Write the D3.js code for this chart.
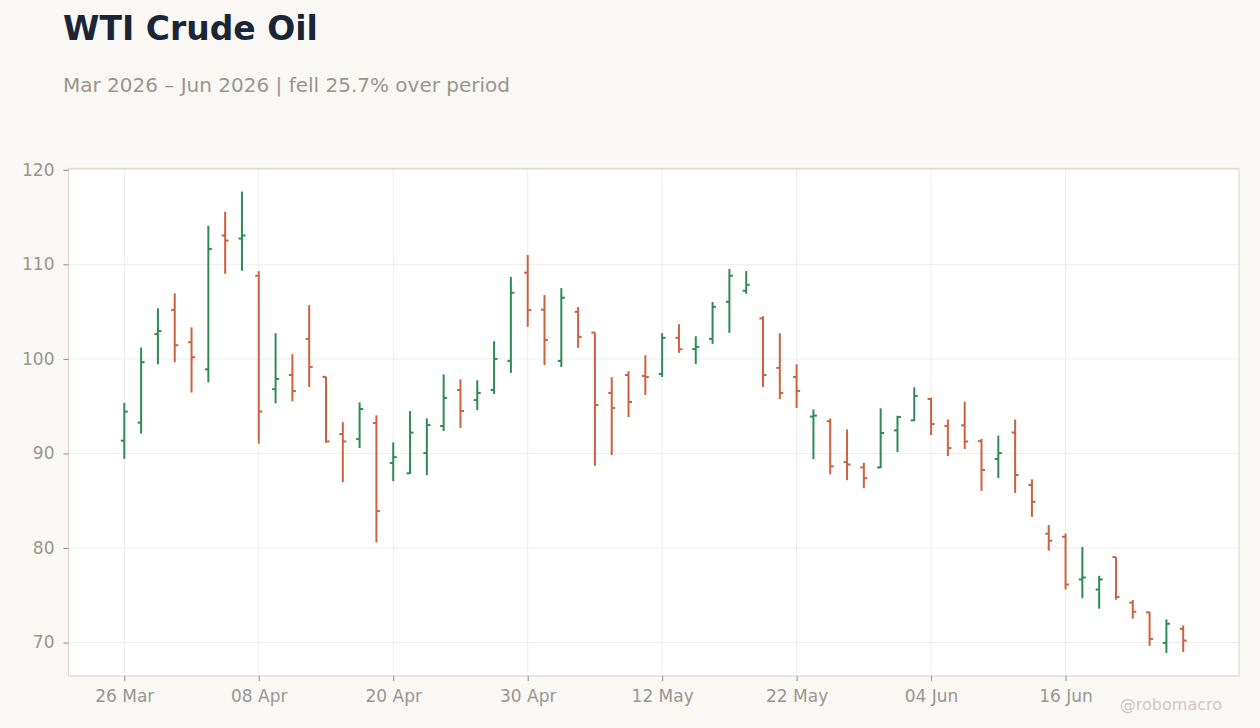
<!DOCTYPE html>
<html>
<head>
<meta charset="utf-8">
<script src="https://cdn.jsdelivr.net/npm/d3@7"></script>
<style>
  html, body { margin: 0; padding: 0; background: #f9f8f5; }
  svg { display: block; font-family: 'DejaVu Sans', sans-serif; }
</style>
</head>
<body>
<svg id="chart" width="1260" height="728"></svg>
<script>
const DATES = [
  '2026-03-26', '2026-03-27', '2026-03-30', '2026-03-31', '2026-04-01', '2026-04-02', '2026-04-06', '2026-04-07',
  '2026-04-08', '2026-04-09', '2026-04-10', '2026-04-13', '2026-04-14', '2026-04-15', '2026-04-16', '2026-04-17',
  '2026-04-20', '2026-04-21', '2026-04-22', '2026-04-23', '2026-04-24', '2026-04-27', '2026-04-28', '2026-04-29',
  '2026-04-30', '2026-05-01', '2026-05-04', '2026-05-05', '2026-05-06', '2026-05-07', '2026-05-08', '2026-05-11',
  '2026-05-12', '2026-05-13', '2026-05-14', '2026-05-15', '2026-05-18', '2026-05-19', '2026-05-20', '2026-05-21',
  '2026-05-22', '2026-05-26', '2026-05-27', '2026-05-28', '2026-05-29', '2026-06-01', '2026-06-02', '2026-06-03',
  '2026-06-04', '2026-06-05', '2026-06-08', '2026-06-09', '2026-06-10', '2026-06-11', '2026-06-12', '2026-06-15',
  '2026-06-16', '2026-06-17', '2026-06-18', '2026-06-22', '2026-06-23', '2026-06-24', '2026-06-25', '2026-06-26',
]

const OPEN = [
  91.35, 93.26, 102.62, 105.18, 101.77, 98.9, 113.05, 112.73,
  108.8, 96.8, 98.3, 102.12, 98.1, 92.05, 91.52, 93.22,
  88.98, 87.9, 90.04, 92.9, 96.71, 95.65, 96.71, 99.79,
  109.12, 105.2, 99.79, 104.98, 102.79, 96.4, 98.3, 98.2,
  98.41, 102.23, 101.04, 102.12, 106.04, 107.21, 104.28, 99.05,
  98.09, 93.9, 93.41, 89.08, 88.52, 88.52, 92.44, 93.5,
  95.76, 92.9, 92.98, 91.3, 89.4, 92.21, 86.67, 81.51,
  81.19, 76.67, 75.6, 79.04, 74.22, 73.19, 69.96, 71.45,
]

const HIGH = [
  95.35, 101.2, 105.35, 106.95, 103.33, 114.08, 115.57, 117.7,
  109.29, 102.72, 100.5, 105.69, 98.1, 93.3, 95.4, 94.03,
  91.17, 94.48, 93.71, 98.37, 97.84, 97.74, 101.87, 108.66,
  110.99, 106.75, 107.49, 105.48, 102.79, 98.06, 98.69, 100.39,
  102.72, 103.67, 102.4, 106.01, 109.51, 109.29, 104.52, 102.72,
  99.43, 94.66, 93.69, 92.54, 89.01, 94.77, 93.99, 97.0,
  95.9, 93.6, 95.47, 91.54, 91.89, 93.58, 87.26, 82.42,
  81.54, 80.12, 77.06, 79.04, 74.5, 73.26, 72.45, 71.81,
]

const LOW = [
  89.43, 92.1, 99.43, 99.65, 96.45, 97.52, 109.0, 109.33,
  91.03, 95.3, 95.51, 97.03, 91.13, 86.96, 90.57, 80.6,
  87.07, 87.84, 87.7, 92.37, 92.69, 94.59, 96.29, 98.52,
  103.39, 99.36, 99.15, 101.17, 88.7, 89.82, 93.85, 96.18,
  98.09, 100.64, 99.47, 101.59, 102.76, 106.89, 97.03, 95.76,
  94.81, 89.4, 87.79, 87.17, 86.33, 88.45, 90.14, 93.43,
  91.94, 89.72, 90.46, 86.04, 87.4, 85.82, 83.3, 79.72,
  75.61, 74.68, 73.58, 74.54, 72.52, 69.65, 68.9, 69.0,
]

const CLOSE = [
  94.43, 99.65, 102.94, 101.45, 100.18, 111.63, 112.52, 113.05,
  94.43, 97.88, 96.6, 99.15, 91.27, 91.27, 94.7, 83.9,
  89.61, 92.2, 93.0, 95.87, 94.49, 96.4, 100.0, 107.0,
  105.16, 102.01, 106.47, 102.33, 95.12, 94.81, 95.44, 98.09,
  102.23, 101.02, 101.27, 105.51, 108.8, 107.84, 98.3, 96.4,
  96.61, 94.0, 88.64, 88.83, 87.39, 92.16, 93.85, 96.08,
  93.11, 90.57, 91.26, 88.25, 90.04, 87.72, 84.88, 80.77,
  76.14, 76.88, 76.67, 74.82, 73.26, 70.39, 71.99, 70.21,
]

const Y_TICKS = [70, 80, 90, 100, 110, 120]
// a labelled tick every 8 sessions
const X_TICKS = DATES.filter((d, i) => i % 8 === 0)

const TITLE = 'WTI Crude Oil'
const SUBTITLE = 'Mar 2026 \u2013 Jun 2026 | fell 25.7% over period'
const CREDIT = '@robomacro'

const UP = '#2e8b57'
const DOWN = '#cd6140'

const bars = DATES.map((date, i) => ({
  date,
  open: OPEN[i],
  high: HIGH[i],
  low: LOW[i],
  close: CLOSE[i],
}))

const margin = { top: 168.5, right: 21, bottom: 52, left: 68.5 }
const width = 1260 - margin.left - margin.right
const height = 728 - margin.top - margin.bottom

const svg = d3.select('#chart')

svg.append('text')
  .attr('x', 63)
  .attr('y', 40)
  .attr('fill', '#1b2535')
  .attr('font-size', 33)
  .attr('font-weight', 'bold')
  .text(TITLE)

svg.append('text')
  .attr('x', 63)
  .attr('y', 92)
  .attr('fill', '#9a9590')
  .attr('font-size', 20)
  .text(SUBTITLE)

const g = svg.append('g').attr('transform', `translate(${margin.left},${margin.top})`)

const x = d3.scalePoint()
  .domain(DATES)
  .range([0, width])
  .padding(3.32)

const lo = d3.min(LOW)
const hi = d3.max(HIGH)
const pad = (hi - lo) * 0.05
const y = d3.scaleLinear()
  .domain([lo - pad, hi + pad])
  .range([height, 0])

g.append('rect')
  .attr('width', width)
  .attr('height', height)
  .attr('fill', '#ffffff')

// grid
g.append('g')
  .selectAll('line')
  .data(Y_TICKS)
  .join('line')
  .attr('x1', 0)
  .attr('x2', width)
  .attr('y1', (d) => y(d))
  .attr('y2', (d) => y(d))
  .attr('stroke', '#efeeec')
  .attr('stroke-width', 1)

g.append('g')
  .selectAll('line')
  .data(X_TICKS)
  .join('line')
  .attr('x1', (d) => x(d))
  .attr('x2', (d) => x(d))
  .attr('y1', 0)
  .attr('y2', height)
  .attr('stroke', '#efeeec')
  .attr('stroke-width', 1)

g.append('rect')
  .attr('width', width)
  .attr('height', height)
  .attr('fill', 'none')
  .attr('stroke', '#dcd8d2')
  .attr('stroke-width', 1.2)

const fmt = d3.utcFormat('%d %b')
const parse = d3.utcParse('%Y-%m-%d')

const xAxis = g.append('g')
  .attr('transform', `translate(0,${height})`)
  .call(d3.axisBottom(x).tickValues(X_TICKS).tickSize(5).tickPadding(9).tickFormat((d) => fmt(parse(d))))

const yAxis = g.append('g')
  .call(d3.axisLeft(y).tickValues(Y_TICKS).tickSize(5).tickPadding(9).tickFormat(d3.format('d')))

for (const ax of [xAxis, yAxis]) {
  ax.select('.domain').remove()
  ax.selectAll('.tick line').attr('stroke', '#8f8a85')
  ax.selectAll('.tick text')
    .attr('fill', '#9a9590')
    .attr('font-size', 17)
    .attr('font-family', 'DejaVu Sans, sans-serif')
}

// OHLC bars
const tick = 3.5
const ohlc = g.append('g')
  .selectAll('g')
  .data(bars)
  .join('g')
  .attr('stroke', (d) => (d.close >= d.open ? UP : DOWN))
  .attr('stroke-width', 2)

ohlc.append('line')
  .attr('x1', (d) => x(d.date))
  .attr('x2', (d) => x(d.date))
  .attr('y1', (d) => y(d.high))
  .attr('y2', (d) => y(d.low))

ohlc.append('line')
  .attr('x1', (d) => x(d.date) - tick)
  .attr('x2', (d) => x(d.date))
  .attr('y1', (d) => y(d.open))
  .attr('y2', (d) => y(d.open))

ohlc.append('line')
  .attr('x1', (d) => x(d.date))
  .attr('x2', (d) => x(d.date) + tick)
  .attr('y1', (d) => y(d.close))
  .attr('y2', (d) => y(d.close))

svg.append('text')
  .attr('x', 1222)
  .attr('y', 710)
  .attr('text-anchor', 'end')
  .attr('fill', '#cdc9c4')
  .attr('font-size', 16)
  .text(CREDIT)
</script>
</body>
</html>
